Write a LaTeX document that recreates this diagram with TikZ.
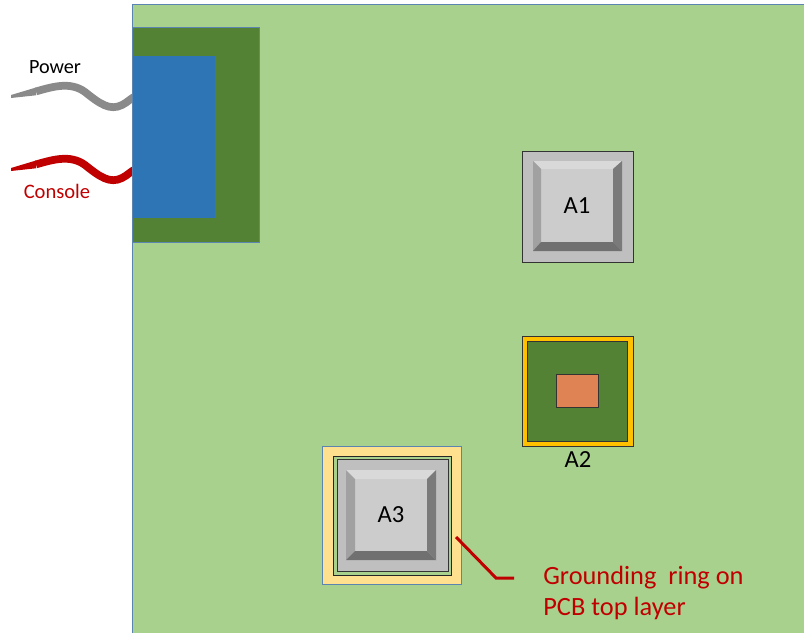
\documentclass[tikz,border=0pt]{standalone}
\usepackage{fontspec}
\setmainfont{Carlito}
\definecolor{boardgreen}{HTML}{A9D18E}
\definecolor{darkgreen}{HTML}{548235}
\definecolor{edgeblue}{HTML}{5B84B1}
\definecolor{portblue}{HTML}{2E75B6}
\definecolor{wirered}{HTML}{C00000}
\definecolor{wiregray}{HTML}{8A8A8A}
\definecolor{ringgold}{HTML}{FFC000}
\definecolor{dieorange}{HTML}{DF8355}
\definecolor{ringyellow}{HTML}{FFE08F}
\tikzstyle{plate}=[rectangle,inner sep=0pt,outer sep=0pt,anchor=north west,
                   line width=0.5pt]
\tikzstyle{chipbody}=[plate,draw=black!80,fill=black!25]
\tikzstyle{chipface}=[plate,fill=black!20,font=\fontsize{14}{16}\selectfont]
\tikzstyle{wire}=[line width=4.4pt]
\tikzstyle{leader}=[draw=wirered,line width=1.7pt]
\begin{document}
\begin{tikzpicture}[x=0.02cm,y=-0.02cm]
    \newcommand{\px}{0.02cm}
    \useasboundingbox (0,0) rectangle (804,632);
    % wires, the board hides their right ends
    \coordinate (pw0) at ( 11, 95);
    \coordinate (pw1) at (136, 96);
    \coordinate (cs0) at ( 11,168);
    \coordinate (cs1) at (136,169);
    \fill[wiregray] (pw0) -- (36,87.5) -- (36,95.3) -- (11,98) -- cycle;
    \fill[wirered]  (cs0) -- (36,160.5) -- (36,168.3) -- (11,171) -- cycle;
    \draw[wire,wiregray] (36,91.4) .. controls (52,87) and (70,81) .. (85,92)
        .. controls (100,104) and (110,111) .. (122,105) .. controls (128,102) and (131,98) .. (pw1);
    \draw[wire,wirered] (36,164.4) .. controls (52,160) and (70,154) .. (85,165)
        .. controls (100,177) and (110,184) .. (122,178) .. controls (128,175) and (131,171) .. (cs1);
    \node (power) at (55,67) {\fontsize{11.5}{13}\selectfont Power};
    \node (console) at (57,191) [text=wirered]{\fontsize{11.7}{13}\selectfont Console};
    % board and power/console connector
    \node (board) at (132,4) [plate,draw=edgeblue,fill=boardgreen,
        minimum width=680*\px,minimum height=640*\px]{};
    \node (conn) at (132,27) [plate,draw=edgeblue,fill=darkgreen,
        minimum width=127*\px,minimum height=215*\px]{};
    \node (port) at (133,56) [plate,fill=portblue,
        minimum width=82*\px,minimum height=162*\px]{};
    % A1
    \node (a1) at (522,151) [chipbody,minimum width=111*\px,minimum height=111*\px]{};
    \node (a1b) at (533,161) [plate,minimum width=89*\px,minimum height=90*\px]{};
    \node (a1f) at (541,169) [chipface,minimum width=72*\px,minimum height=73*\px]{A1};
    \fill[black!15] (a1b.north west) -- (a1b.north east) -- (a1f.north east) -- (a1f.north west) -- cycle;
    \fill[black!37] (a1b.north west) -- (a1b.south west) -- (a1f.south west) -- (a1f.north west) -- cycle;
    \fill[black!52] (a1b.north east) -- (a1b.south east) -- (a1f.south east) -- (a1f.north east) -- cycle;
    \fill[black!56] (a1b.south west) -- (a1b.south east) -- (a1f.south east) -- (a1f.south west) -- cycle;
    % A2
    \node (a2) at (522,336) [plate,draw=black!80,fill=ringgold,minimum width=111*\px,minimum height=110*\px]{};
    \node (a2g) at (527,341) [plate,draw=black!80,fill=darkgreen,minimum width=100*\px,minimum height=100*\px]{};
    \node (a2d) at (556,374) [plate,draw=black!80,fill=dieorange,minimum width=42*\px,minimum height=33*\px]{};
    \node (a2l) at (578,460) {\fontsize{14}{16}\selectfont A2};
    % A3 with its grounding ring
    \node (a3y) at (322,446) [plate,draw=edgeblue,fill=ringyellow,minimum width=139*\px,minimum height=138*\px]{};
    \node (a3r) at (333,456) [plate,draw=black!85,fill=boardgreen,minimum width=118*\px,minimum height=119*\px]{};
    \node (a3) at (337,459) [chipbody,minimum width=111*\px,minimum height=112*\px]{};
    \node (a3b) at (346,470) [plate,minimum width=90*\px,minimum height=90*\px]{};
    \node (a3f) at (355,479) [chipface,minimum width=72*\px,minimum height=72*\px]{A3};
    \fill[black!15] (a3b.north west) -- (a3b.north east) -- (a3f.north east) -- (a3f.north west) -- cycle;
    \fill[black!37] (a3b.north west) -- (a3b.south west) -- (a3f.south west) -- (a3f.north west) -- cycle;
    \fill[black!52] (a3b.north east) -- (a3b.south east) -- (a3f.south east) -- (a3f.north east) -- cycle;
    \fill[black!56] (a3b.south west) -- (a3b.south east) -- (a3f.south east) -- (a3f.south west) -- cycle;
    % callout
    \coordinate (ld0) at (456,537);
    \coordinate (ld1) at (496,578);
    \coordinate (ld2) at (514,578);
    \draw[leader] (ld0) -- (ld1) -- (ld2);
    \node (ringtxt) at (543,593) [anchor=west,align=left,text=wirered,inner sep=0pt,
        font=\fontsize{15}{18}\selectfont]{Grounding\ \ ring on\\PCB top layer};
\end{tikzpicture}
\end{document}
